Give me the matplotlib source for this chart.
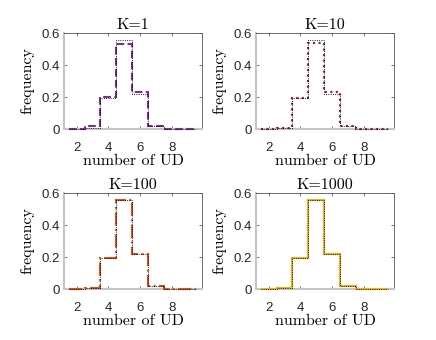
import matplotlib
matplotlib.use("Agg")
import matplotlib.pyplot as plt
import numpy as np

# number of UD (bin centres) and frequencies
ud = [2, 3, 4, 5, 6, 7, 8, 9]
ref = [0.001, 0.007, 0.194, 0.556, 0.219, 0.021, 0.002, 0.0005]
k1 = [0.001, 0.017, 0.200, 0.529, 0.233, 0.019, 0.002, 0.0005]
k10 = [0.002, 0.008, 0.195, 0.540, 0.233, 0.017, 0.002, 0.002]
k100 = [0.001, 0.006, 0.194, 0.554, 0.219, 0.021, 0.002, 0.001]
k1000 = [0.001, 0.006, 0.194, 0.556, 0.219, 0.021, 0.002, 0.001]

titles = ['K=1', 'K=10', 'K=100', 'K=1000']
series = [k1, k10, k100, k1000]
colors = ['#7E2F8E', '#A2142F', '#D95319', '#EDB120']
styles = ['--', ':', '-.', '-']

# axes boxes in pixels (left, top, right, bottom)
boxes = [(64, 33, 202, 129), (256, 33, 394, 129),
         (64, 193, 202, 289), (256, 193, 394, 289)]

W, H = 436, 340
fig = plt.figure(figsize=(W / 100, H / 100), dpi=100)

def stairs_xy(c, v):
    edges = np.concatenate([np.array(c) - 0.5, [c[-1] + 0.5]])
    return edges, np.array(v)

serif = 'cmr10'
for i in range(4):
    l, t, r, b = boxes[i]
    ax = fig.add_axes([l / W, 1 - b / H, (r - l) / W, (b - t) / H])
    edges, vals = stairs_xy(ud, series[i])
    ax.stairs(vals, edges, color=colors[i], linestyle=styles[i], linewidth=1.5,
              zorder=3, clip_on=False)
    edges, vals = stairs_xy(ud, ref)
    ax.stairs(vals, edges, color='black', linestyle=(0, (1, 1.5)), linewidth=0.65,
              zorder=4, clip_on=False)
    ax.set_xlim(1.2, 9.9)
    ax.set_ylim(0, 0.6)
    ax.set_xticks([2, 4, 6, 8])
    ax.set_yticks([0, 0.2, 0.4, 0.6])
    ax.set_yticklabels(['0', '0.2', '0.4', '0.6'])
    ax.tick_params(direction='in', length=2.5, width=0.5, colors='#404040',
                   top=True, right=True, labelsize=9.5)
    ax.tick_params(axis='x', pad=9.5)
    ax.tick_params(axis='y', pad=3)
    for lab in ax.get_xticklabels() + ax.get_yticklabels():
        lab.set_family('Liberation Sans')
        lab.set_color('#262626')
    for s in ['top', 'right']:
        ax.spines[s].set_color('#555555')
        ax.spines[s].set_linewidth(0.6)
    for s in ['left', 'bottom']:
        ax.spines[s].set_color('#c4c4c4')
        ax.spines[s].set_linewidth(1.5)
    ax.set_title(titles[i], family=serif, fontsize=11.5, pad=3)
    ax.set_xlabel('number of UD', family=serif, fontsize=11.5, labelpad=0)
    ax.set_ylabel('frequency', family=serif, fontsize=11.5, labelpad=5)

fig.savefig('out.png', dpi=100)
